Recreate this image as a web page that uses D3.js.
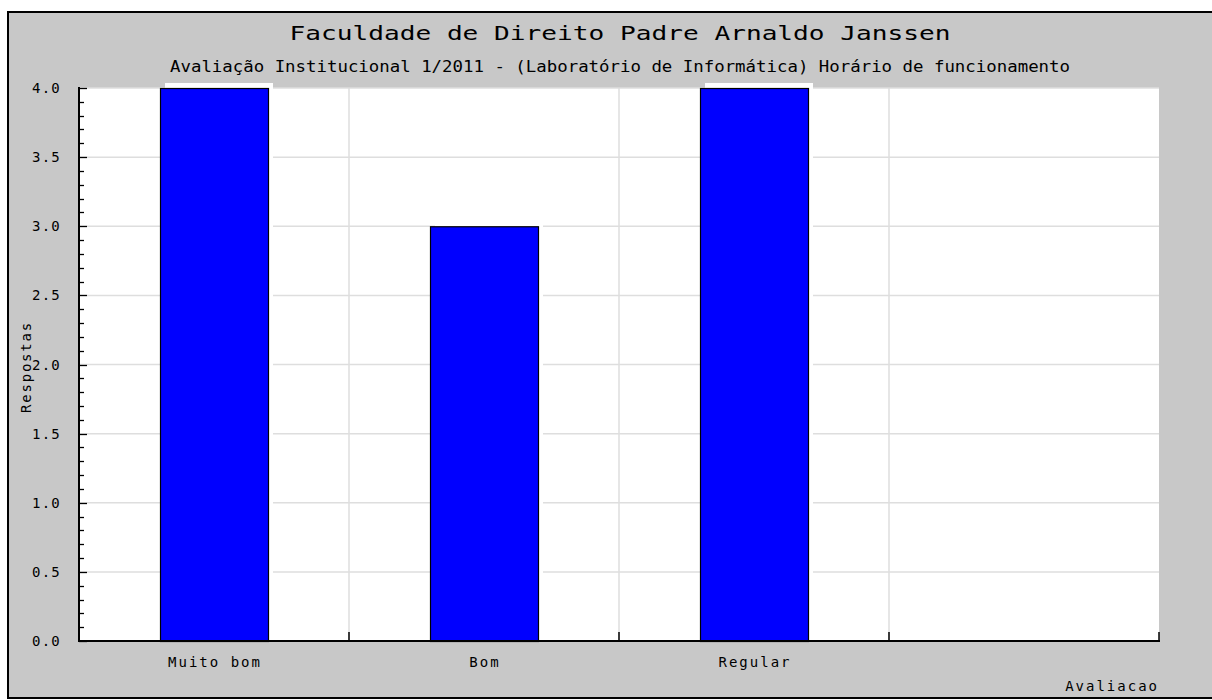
<!DOCTYPE html>
<html><head><meta charset="utf-8">
<script src="https://cdn.jsdelivr.net/npm/d3@7"></script>
<style>html,body{margin:0;padding:0;background:#fff;overflow:hidden}svg{display:block}text{font-family:"DejaVu Sans Mono","Liberation Mono",monospace;fill:#000}</style>
</head><body>
<script>
const title = "Faculdade de Direito Padre Arnaldo Janssen";
const subtitle = "Avaliação Institucional 1/2011 - (Laboratório de Informática) Horário de funcionamento";
const categories = ["Muito bom", "Bom", "Regular", ""];
const values = [4, 3, 4, null];
const yTicks = [0, 0.5, 1, 1.5, 2, 2.5, 3, 3.5, 4];
const xTitle = "Avaliacao";
const yTitle = "Respostas";

const W = 1212, H = 700;
const svg = d3.select("body").append("svg").attr("width", W).attr("height", H);
// outer frame
svg.append("rect").attr("x", 8).attr("y", 12).attr("width", W + 10).attr("height", 686)
  .attr("fill", "#c8c8c8").attr("stroke", "#000").attr("stroke-width", 2);

const m = {l: 79, r: 1159, t: 88, b: 641};
const y = d3.scaleLinear().domain([0, 4]).range([m.b, m.t]);
const xs = d3.scaleBand().domain(categories).range([m.l, m.r]).paddingInner(0.6).paddingOuter(0.3);
const xSlot = d3.scaleBand().domain(categories).range([m.l, m.r]).padding(0);

// plot background
svg.append("rect").attr("x", m.l).attr("y", m.t).attr("width", m.r - m.l).attr("height", m.b - m.t).attr("fill", "#fff");

// grid
const g = svg.append("g");
g.selectAll(".hg").data(yTicks.filter(d => d > 0)).join("line")
  .attr("x1", m.l).attr("x2", m.r).attr("y1", d => y(d)).attr("y2", d => y(d))
  .attr("stroke", "#dedede").attr("stroke-width", 1.5);
g.selectAll(".vg").data(categories.slice(1)).join("line")
  .attr("x1", d => xSlot(d)).attr("x2", d => xSlot(d)).attr("y1", m.t).attr("y2", m.b)
  .attr("stroke", "#dedede").attr("stroke-width", 1.5);

const bd = categories.map((c, i) => ({c, v: values[i]})).filter(d => d.v != null);
// white shadow
svg.selectAll(".sh").data(bd).join("rect")
  .attr("x", d => xs(d.c) + 5).attr("y", d => y(d.v) - 5)
  .attr("width", xs.bandwidth()).attr("height", d => m.b - y(d.v))
  .attr("fill", "#fff");
// bars
svg.selectAll(".bar").data(bd).join("rect")
  .attr("x", d => xs(d.c) + 0.5).attr("y", d => y(d.v) + 0.5)
  .attr("width", xs.bandwidth()).attr("height", d => m.b - y(d.v))
  .attr("fill", "#0000ff").attr("stroke", "#000").attr("stroke-width", 1.2);

// y axis
const ya = svg.append("g");
ya.append("line").attr("x1", m.l).attr("x2", m.l).attr("y1", m.t - 1).attr("y2", m.b + 1).attr("stroke", "#000").attr("stroke-width", 2);
const minor = d3.range(0, 41).map(i => i / 10);
ya.selectAll(".mt").data(minor).join("line")
  .attr("x1", m.l).attr("x2", d => m.l + (Math.round(d * 10) % 5 === 0 ? 8 : 5))
  .attr("y1", d => Math.round(y(d)) + 0.5).attr("y2", d => Math.round(y(d)) + 0.5)
  .attr("stroke", "#000").attr("stroke-width", 1.3);
ya.selectAll("text").data(yTicks).join("text")
  .attr("x", 61).attr("y", d => y(d) + 5).attr("text-anchor", "end")
  .attr("font-size", 14).attr("letter-spacing", 1.2).text(d => d3.format(".1f")(d));

// x axis
const xa = svg.append("g");
xa.append("line").attr("x1", m.l - 1).attr("x2", m.r + 1).attr("y1", m.b).attr("y2", m.b).attr("stroke", "#000").attr("stroke-width", 2);
const bounds = categories.slice(1).map(c => xSlot(c)).concat([m.r]);
xa.selectAll(".xt").data(bounds).join("line")
  .attr("x1", d => d).attr("x2", d => d).attr("y1", m.b).attr("y2", m.b - 9)
  .attr("stroke", "#000").attr("stroke-width", 1.5);
xa.selectAll("text").data(categories).join("text")
  .attr("x", d => xs(d) + xs.bandwidth() / 2 + 1).attr("y", 667).attr("text-anchor", "middle")
  .attr("font-size", 14).attr("letter-spacing", 2).text(d => d);

// titles
svg.append("text").attr("x", 620).attr("y", 40).attr("text-anchor", "middle")
  .attr("font-size", 20).attr("textLength", 661).attr("lengthAdjust", "spacingAndGlyphs").text(title);
svg.append("text").attr("x", 620).attr("y", 72).attr("text-anchor", "middle")
  .attr("font-size", 15).attr("textLength", 900).attr("lengthAdjust", "spacingAndGlyphs").text(subtitle);
svg.append("text").attr("x", 1159).attr("y", 691).attr("text-anchor", "end")
  .attr("font-size", 14).attr("letter-spacing", 2).text(xTitle);
svg.append("text").attr("transform", "translate(31,367) rotate(-90)").attr("text-anchor", "middle")
  .attr("font-size", 14).attr("letter-spacing", 1.8).text(yTitle);
</script>
</body></html>
